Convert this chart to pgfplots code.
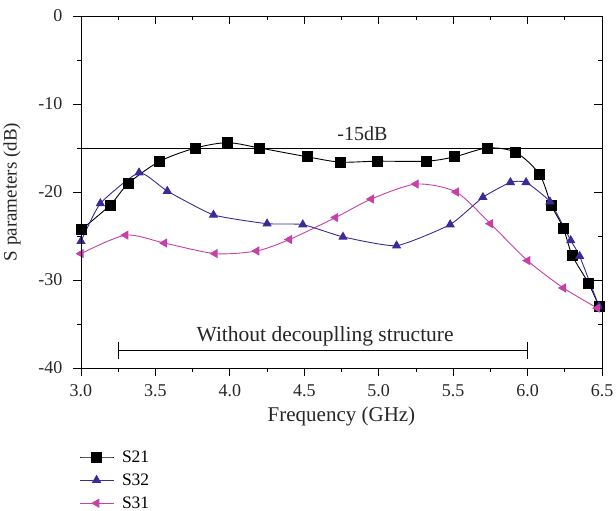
\documentclass[border=0pt]{standalone}
\usepackage{fontspec}
\setmainfont{Liberation Serif}
\usepackage{pgfplots}
\pgfplotsset{compat=1.18}
\definecolor{sblue}{RGB}{58,44,152}
\definecolor{smag}{RGB}{198,64,166}
\begin{document}
\begin{tikzpicture}
\pgfplotsset{
  common/.style={
    width=521pt, height=352pt, scale only axis,
    xmin=3.0, xmax=6.5, ymin=-40, ymax=0,
    xtick={3.0,3.5,...,6.5}, ytick={-40,-30,...,0},
    minor x tick num=1, minor y tick num=1,
    major tick length=8pt, minor tick length=4pt,
    axis line style={black, line width=0.8pt},
    every tick/.style={black, line width=0.8pt},
  }
}
\begin{axis}[common,
    name=ax,
    tick align=outside,
    xtick pos=left, ytick pos=left,
    /pgf/number format/assume math mode=true,
    tick label style={font=\fontsize{18}{21}\selectfont, text=black!85},
    xticklabel style={yshift=-5pt, /pgf/number format/.cd, fixed, fixed zerofill, precision=1},
    yticklabel style={xshift=-7pt, /pgf/number format/.cd, fixed},
    xlabel={Frequency (GHz)},
    ylabel={S parameters (dB)},
    xlabel style={font=\fontsize{21}{24}\selectfont, text=black!85, at={(rel axis cs:0.5,0)}, anchor=center, yshift=-48pt},
    ylabel style={font=\fontsize{19}{22}\selectfont, text=black!85, at={(rel axis cs:0,0.5)}, anchor=center, yshift=69pt},
    legend style={at={(rel axis cs:-0.004,-0.228)}, anchor=north west, draw=none, fill=none,
      font=\fontsize{17.5}{20}\selectfont, row sep=6pt, inner sep=0pt, column sep=6pt},
    legend cell align=left,
    legend image code/.code={
      \draw[mark repeat=2,mark phase=2] plot coordinates {(0pt,0pt) (17pt,0pt) (34pt,0pt)};
    },
]
\addplot[black, line width=0.9pt, smooth, tension=0.5, mark=square*, mark size=5pt, mark options={solid}] coordinates {
(3.00,-24.3) (3.195,-21.5) (3.32,-19.0) (3.53,-16.5) (3.77,-15.0) (3.985,-14.4)
(4.20,-15.0) (4.52,-16.0) (4.74,-16.6) (4.99,-16.5) (5.32,-16.5) (5.51,-16.0)
(5.73,-15.0) (5.92,-15.5) (6.08,-18.0) (6.16,-21.5) (6.24,-24.1) (6.30,-27.2)
(6.41,-30.4) (6.48,-33.0)};
\addlegendentry{S21}
\addplot[sblue, line width=0.9pt, smooth, tension=0.3, mark=triangle*, mark size=4.5pt, mark options={solid, fill=sblue}] coordinates {
(3.00,-25.6) (3.13,-21.3) (3.39,-17.8) (3.58,-19.9) (3.89,-22.6) (4.25,-23.6)
(4.49,-23.7) (4.76,-25.1) (5.12,-26.1) (5.48,-23.7) (5.70,-20.6) (5.885,-18.9)
(5.99,-18.9) (6.15,-21.1) (6.29,-25.5) (6.35,-27.3) (6.48,-33.0)};
\addlegendentry{S32}
\addplot[smag, line width=0.9pt, smooth, tension=0.45, mark=triangle*, mark size=4.5pt, mark options={solid, fill=smag, rotate=90}] coordinates {
(3.00,-27.0) (3.30,-24.9) (3.56,-25.8) (3.90,-27.0) (4.18,-26.7) (4.40,-25.4)
(4.71,-22.9) (4.95,-20.8) (5.25,-19.1) (5.52,-20.0) (5.75,-23.6) (6.00,-27.8)
(6.24,-30.9) (6.47,-33.2)};
\addlegendentry{S31}
% annotations
\draw[black, line width=0.8pt] (axis cs:3.0,-15) -- (axis cs:6.5,-15);
\node[font=\fontsize{20}{23}\selectfont, text=black!85, anchor=south] at (axis cs:4.89,-14.6) {-15dB};
\draw[black, line width=0.8pt] (axis cs:3.25,-38) -- (axis cs:6.0,-38);
\draw[black, line width=0.8pt] (axis cs:3.25,-37) -- (axis cs:3.25,-39);
\draw[black, line width=0.8pt] (axis cs:6.0,-37) -- (axis cs:6.0,-39);
\node[font=\fontsize{21.5}{24}\selectfont, text=black!85, anchor=south] at (axis cs:4.64,-37.9) {Without decouplling structure};
\end{axis}
\begin{axis}[common,
    tick align=inside,
    xtick pos=right, ytick pos=right,
    xticklabels={}, yticklabels={},
]
\end{axis}
\pgfresetboundingbox
\path[use as bounding box] ([shift={(-81pt,-143pt)}]ax.south west) rectangle ([shift={(14pt,16pt)}]ax.north east);
\end{tikzpicture}
\end{document}
